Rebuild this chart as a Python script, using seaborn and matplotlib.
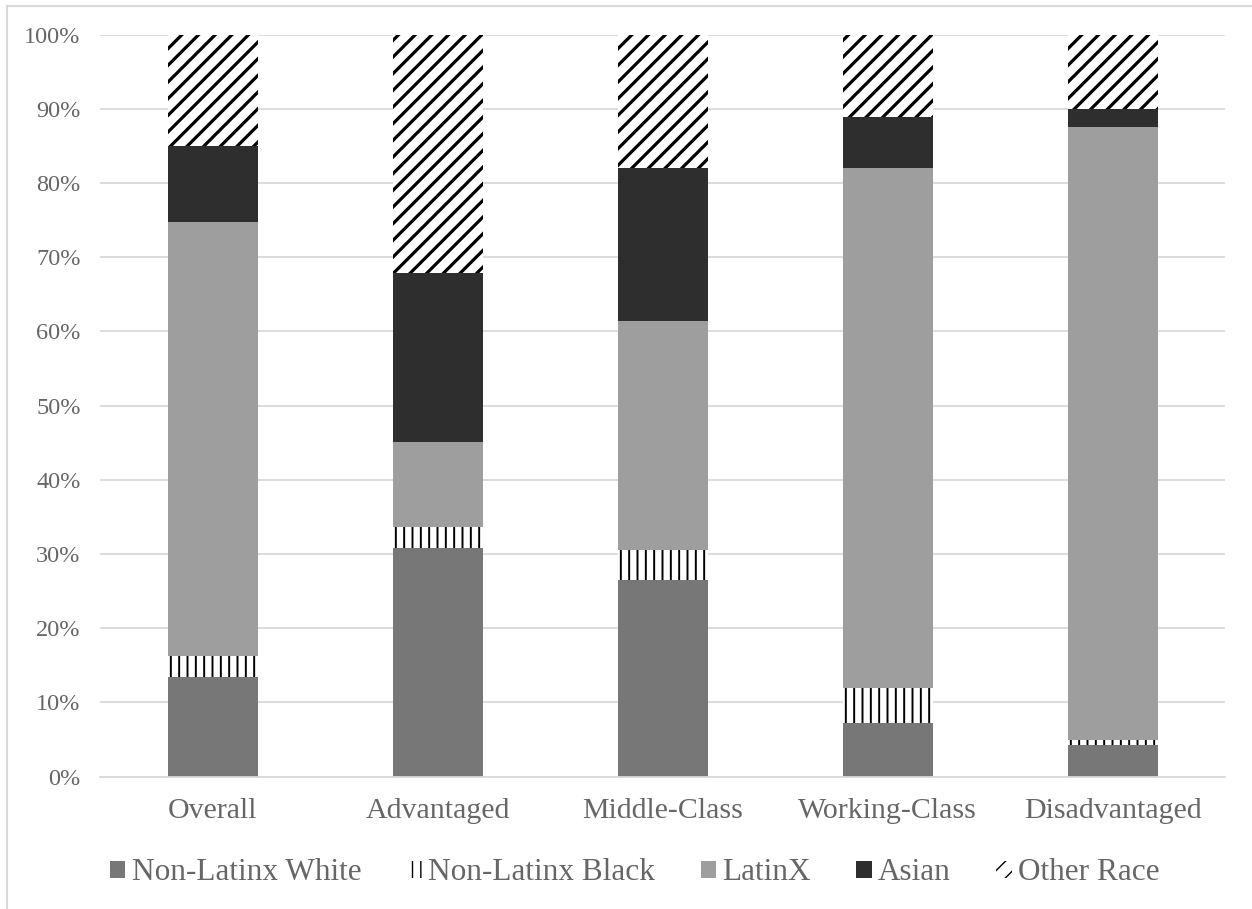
import numpy as np
import matplotlib
matplotlib.use("Agg")
import matplotlib.pyplot as plt
import seaborn as sns
from matplotlib.patches import Patch, Rectangle
from matplotlib.ticker import PercentFormatter

# Share of each racial/ethnic group within every class group (percent)
categories = ["Overall", "Advantaged", "Middle-Class", "Working-Class", "Disadvantaged"]
series_names = ["Non-Latinx White", "Non-Latinx Black", "LatinX", "Asian", "Other Race"]
white = [13.4, 30.8, 26.5, 7.3, 4.3]
black = [2.8, 2.9, 4.0, 4.7, 0.7]
latinx = [58.6, 11.4, 30.9, 70.0, 82.6]
asian = [10.2, 22.8, 20.6, 6.9, 2.4]
other = [15.0, 32.1, 18.0, 11.1, 10.0]
yticks = [0, 10, 20, 30, 40, 50, 60, 70, 80, 90, 100]

# fill colour, hatch pattern, hatch line width for each series
styles = [
    ("#777777", "", 0.0),
    ("#ffffff", "||", 1.4),
    ("#9e9e9e", "", 0.0),
    ("#2e2e2e", "", 0.0),
    ("#ffffff", "//", 2.3),
]

sns.set_theme(style="white")
plt.rcParams["font.family"] = ["Liberation Serif", "DejaVu Serif"]
plt.rcParams["hatch.color"] = "black"
TEXT = "#666666"
GRID = "#d9d9d9"

fig = plt.figure(figsize=(12.52, 9.09), dpi=100)
ax = fig.add_axes([100 / 1252, 1 - 776.7 / 909, 1125 / 1252, (776.7 - 34.5) / 909])

values = np.array([white, black, latinx, asian, other], dtype=float) / 100.0
tops = np.cumsum(values, axis=0)

# stack by drawing cumulative heights, tallest first, each layer covering the one below
for i in reversed(range(len(series_names))):
    face, hatch, hlw = styles[i]
    n_before = len(ax.patches)
    sns.barplot(x=categories, y=tops[i], color=face, saturation=1, width=0.4,
                ax=ax, order=categories)
    for p in ax.patches[n_before:]:
        p.set_facecolor(face)
        p.set_edgecolor("black")
        p.set_linewidth(0)
        if hatch:
            p.set_hatch(hatch)
            if hasattr(p, "set_hatch_linewidth"):
                p.set_hatch_linewidth(hlw)

ax.set_xlim(-0.5, len(categories) - 0.5)
ax.set_ylim(0, 1)
ax.set_yticks(np.array(yticks) / 100)
ax.yaxis.set_major_formatter(PercentFormatter(1.0, decimals=0))
ax.set_axisbelow(True)
ax.grid(axis="y", color=GRID, linewidth=1.3)
ax.grid(axis="x", visible=False)
for s in ["top", "right", "left"]:
    ax.spines[s].set_visible(False)
ax.spines["bottom"].set_color(GRID)
ax.spines["bottom"].set_linewidth(1.3)
ax.set_xlabel("")
ax.set_ylabel("")
ax.tick_params(axis="y", length=0, pad=14, labelsize=17.5, labelcolor=TEXT)
ax.tick_params(axis="x", length=0, pad=15, labelsize=21.5, labelcolor=TEXT)

handles = []
for (face, hatch, hlw), name in zip(styles, series_names):
    h = Patch(facecolor=face, edgecolor="black", linewidth=0, hatch=hatch, label=name)
    if hatch and hasattr(h, "set_hatch_linewidth"):
        h.set_hatch_linewidth(hlw)
    handles.append(h)

leg = fig.legend(handles=handles, loc="upper center", bbox_to_anchor=(0.507, 1 - 846 / 909),
                 ncol=5, frameon=False, fontsize=22.5, handlelength=0.5, handleheight=0.5,
                 handletextpad=0.2, columnspacing=1.45, borderaxespad=0)
for t in leg.get_texts():
    t.set_color(TEXT)

# chart area outline
fig.add_artist(Rectangle((7 / 1252, -0.5), 2.0, 1.5 - 5.5 / 909, transform=fig.transFigure,
                         fill=False, edgecolor=GRID, linewidth=1.5))

fig.savefig("out.png", dpi=100)
